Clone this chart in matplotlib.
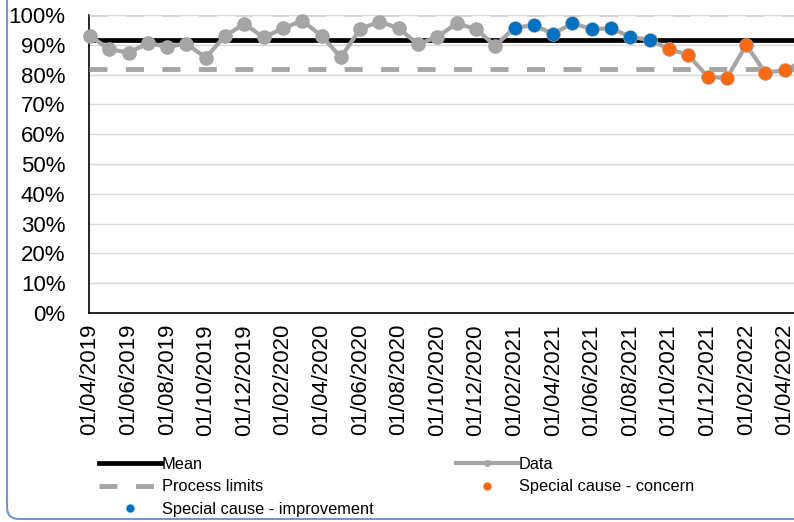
import numpy as np
import pandas as pd
import matplotlib
matplotlib.use("Agg")
import matplotlib.pyplot as plt
from matplotlib.lines import Line2D
from matplotlib.patches import FancyBboxPatch
from matplotlib.transforms import IdentityTransform

plt.rcParams['font.family'] = ['Liberation Sans', 'DejaVu Sans']

# monthly performance (%), April 2019 onwards
months = pd.date_range('2019-04-01', periods=38, freq='MS')
values = [93.0, 88.5, 87.4, 90.5, 89.4, 90.3, 85.7, 93.0, 97.0, 92.5,
          95.5, 98.1, 93.0, 85.8, 95.3, 97.8, 95.5, 90.2, 92.7, 97.2,
          95.3, 89.7, 95.7, 96.6, 93.7, 97.2, 95.3, 95.5, 92.7, 91.6,
          88.6, 86.6, 79.3, 78.8, 89.9, 80.6, 81.5, 84.5]
mean_val = 91.7
lower_limit = 81.9
upper_limit = 100.4
improvement_idx = [22, 23, 24, 25, 26, 27, 28, 29]
concern_idx = [30, 31, 32, 33, 34, 35, 36, 37]

tick_labels = [d.strftime('%d/%m/%Y') for d in months]

GREY = '#A5A5A5'
BLUE = '#0070C0'
ORANGE = '#FF6A10'

W, H = 794, 522
fig = plt.figure(figsize=(W / 100, H / 100), dpi=100)
ax = fig.add_axes([89 / W, 1 - 313 / H, (W - 89) / W, (313 - 15) / H])

x = np.arange(len(values))
vals = np.array(values)

ax.axhline(mean_val, color='black', lw=3.4, zorder=3)
ax.axhline(lower_limit, color=GREY, lw=3.5, ls=(0, (3.7, 3.8)), zorder=3)
ax.axhline(upper_limit, color='#D4D4D4', lw=3.5, ls=(0, (3.7, 3.8)), zorder=3)

ax.plot(x, vals, color=GREY, lw=3, marker='o', ms=9.5, mec=GREY, mfc=GREY,
        zorder=4, clip_on=False)
ax.plot(x[improvement_idx], vals[improvement_idx], 'o', color=BLUE, ms=9.5,
        mew=0, zorder=5, clip_on=False)
ax.plot(x[concern_idx], vals[concern_idx], 'o', color=ORANGE, ms=9.5,
        mew=0, zorder=5, clip_on=False)

ax.set_ylim(0, 100)
ax.set_xlim(-0.05, -0.05 + (W - 89) / 19.3)
ax.set_yticks(np.arange(0, 101, 10))
ax.set_yticklabels([f'{v}%' for v in range(0, 101, 10)])
ax.set_xticks(x[::2])
ax.set_xticklabels(tick_labels[::2], rotation=90)
ax.tick_params(axis='both', length=0, labelsize=16, colors='#000000')
ax.tick_params(axis='y', pad=17)
ax.tick_params(axis='x', pad=8)
ax.grid(axis='y', color='#D9D9D9', lw=1)
ax.set_axisbelow(True)
for s in ['top', 'right']:
    ax.spines[s].set_visible(False)
ax.spines['left'].set_color('black')
ax.spines['bottom'].set_color('black')
ax.spines['left'].set_linewidth(1.2)
ax.spines['bottom'].set_linewidth(1.2)

handles = [
    Line2D([], [], color='black', lw=3.4),
    Line2D([], [], color=GREY, lw=3.5, ls=(0, (3.7, 3.8))),
    Line2D([], [], color=BLUE, marker='o', ms=5, lw=0),
    Line2D([], [], color=GREY, lw=3, marker='o', ms=4),
    Line2D([], [], color=ORANGE, marker='o', ms=5, lw=0),
]
labels = ['Mean', 'Process limits', 'Special cause - improvement',
          'Data', 'Special cause - concern']
fig.legend(handles, labels, ncol=2, loc='upper left',
           bbox_to_anchor=(99 / W, 1 - 457 / H), frameon=False,
           fontsize=11.8, handlelength=3.8, handletextpad=0.05,
           labelspacing=0.45, columnspacing=5.0, borderpad=0, borderaxespad=0)

# rounded chart border
border = FancyBboxPatch((7, 3), 900, 700, boxstyle='round,pad=0,rounding_size=12',
                        transform=IdentityTransform(), fill=False,
                        edgecolor='#6A9AD6', lw=1.5)
fig.patches.append(border)

fig.savefig('out.png', dpi=100)
